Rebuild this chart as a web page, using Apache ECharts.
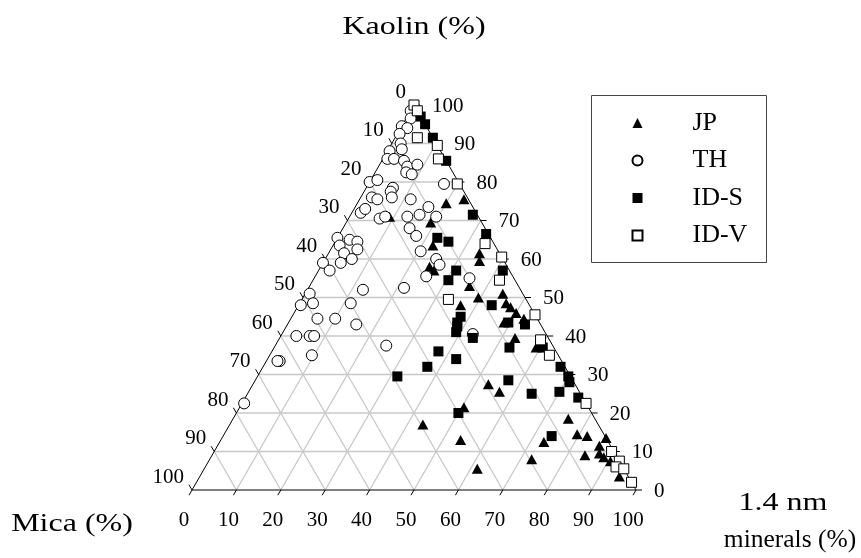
<!DOCTYPE html>
<html>
<head>
<meta charset="utf-8">
<script src="https://cdn.jsdelivr.net/npm/echarts@6.0.0/dist/echarts.min.js"></script>
<style>
html, body { margin: 0; padding: 0; background: #fff; }
#chart { width: 861px; height: 558px; }
</style>
</head>
<body>
<div id="chart"></div>
<script>
// tick labels on the three sides
const ticks = [0, 10, 20, 30, 40, 50, 60, 70, 80, 90, 100];
const gridLevels = [10, 20, 30, 40, 50, 60, 70, 80, 90];

// each point: [Kaolin %, 1.4 nm minerals %]  (Mica = the rest)
const jp = [
    [74.5, 20], [75.5, 23.5], [71, 9], [69.5, 19], [63.5, 22.5], [61.5, 34], [59.5, 35],
    [58, 24.5], [57, 26], [53, 36], [50, 39.5], [48, 36.5], [51, 44.5], [48.5, 46.5],
    [47.5, 48], [46, 50], [44.5, 52.5], [43.5, 48.5], [39.5, 53], [37, 59], [27.5, 53],
    [25.5, 56.5], [21.5, 50.5], [17, 43.5], [13, 54], [5.5, 61.5], [8, 72.5], [12.5, 73],
    [18.5, 75.5], [14.5, 79.5], [14, 82], [9, 84], [13.5, 86.5], [11.5, 86], [9.5, 87],
    [8.5, 88.5], [7.5, 90.5], [3.5, 94.5]
];
const th = [
    [98.5, 0], [96.5, 1], [94.5, 0], [94, 1.5], [92.5, 0.5], [90, 2], [88.5, 3], [88, 0.5],
    [86, 1], [86, 2.5], [85.5, 5], [84, 6.5], [84.5, 8.5], [82.5, 7], [82, 8.5], [80, 0],
    [80.5, 1.5], [79.5, 17], [78.5, 6], [77.5, 6], [76, 2.5], [75.5, 4], [76, 7], [75.5, 11.5],
    [72, 2], [73, 2.5], [70.5, 7], [71, 8], [71, 13], [71.5, 15.5], [73.5, 16.5], [71, 19.5],
    [68, 15], [66, 17.5], [62, 20.5], [65.5, 0], [63.5, 1.5], [65, 3], [64.5, 5], [62.5, 6],
    [61.5, 3.5], [60, 6], [59, 0], [59, 4], [57, 2.5], [55.5, 25], [60, 25], [58.5, 26.5],
    [55, 35], [52, 12.5], [52.5, 21.5], [51, 1], [48, 0.5], [48.5, 3], [48.5, 11.5],
    [44.5, 6], [44.5, 10], [43, 15.5], [40, 3.5], [40, 6.5], [40, 7.5], [37.5, 25],
    [35, 9.5], [40.5, 43], [33.5, 3], [33.5, 2.5], [22.5, 0.5]
];
const idS = [
    [97, 3], [95, 5], [91.5, 8.5], [85.5, 14.5], [71.5, 27.5], [65.5, 22.5], [64.5, 25.5],
    [66.5, 33], [57, 41.5], [57, 31], [54.5, 30.5], [48, 43.5], [43.5, 49.5], [43, 53.5],
    [45, 38], [43.5, 38], [42.5, 38.5], [41, 39], [39.5, 43.5], [36, 37.5], [34, 42.5],
    [37, 53], [37, 60.5], [32, 37], [29.5, 31.5], [28.5, 57], [25, 64], [25.5, 70],
    [32, 67], [29.5, 70], [28, 71], [24, 75], [20, 50], [14, 74]
];
const idV = [
    [100, 0], [98.5, 1.5], [91.5, 5], [89.5, 10.5], [86, 12.5], [79.5, 20], [64, 34],
    [60.5, 39.5], [54.5, 42], [49.5, 33], [45.5, 54.5], [39, 59], [35, 63], [22.5, 77.5],
    [10, 89.5], [7.5, 92.5], [6, 92.5], [5.5, 94.5], [2, 98]
];

const FONT = "Liberation Serif";
const H = Math.sqrt(3) / 2;

// ternary -> plane (x along the base, y up)
function tern(p) {
    return [p[1] + p[0] / 2, p[0] * H];
}

// grid lines, one family per component
const gridSegs = [];
gridLevels.forEach(function (v) {
    gridSegs.push([[v, 0], [v, 100 - v]]);           // kaolin = v
    gridSegs.push([[0, v], [100 - v, v]]);           // 1.4 nm = v
    gridSegs.push([[100 - v, 0], [0, 100 - v]]);     // mica = v
});
const edgeSegs = [
    [[0, 0], [0, 100]],
    [[0, 100], [100, 0]],
    [[100, 0], [0, 0]]
];
function segData(list) {
    return list.map(function (s) { return tern(s[0]).concat(tern(s[1])); });
}

// ticks + labels for the three sides
const tickItems = [];
ticks.forEach(function (v) {
    tickItems.push({ p: [0, v], d: [-3, 5.2], o: [-8, 30], align: "center", text: String(v) });
    tickItems.push({ p: [v, 100 - v], d: [6, 0], o: [18, 1], align: "left", text: String(v) });
    tickItems.push({ p: [100 - v, 0], d: [-3, -5.2], o: [-8, -13], align: "right", text: String(v) });
});

function renderSeg(color, width) {
    return function (params, api) {
        const a = api.coord([api.value(0), api.value(1)]);
        const b = api.coord([api.value(2), api.value(3)]);
        return {
            type: "line",
            shape: { x1: a[0], y1: a[1], x2: b[0], y2: b[1] },
            style: { stroke: color, lineWidth: width }
        };
    };
}

function renderTick(params, api) {
    const t = tickItems[params.dataIndex];
    const c = api.coord([api.value(0), api.value(1)]);
    return {
        type: "group",
        children: [
            {
                type: "line",
                shape: { x1: c[0], y1: c[1], x2: c[0] + t.d[0], y2: c[1] + t.d[1] },
                style: { stroke: "#000", lineWidth: 1 }
            },
            {
                type: "text",
                x: c[0] + t.o[0],
                y: c[1] + t.o[1],
                style: {
                    text: t.text,
                    fontFamily: FONT,
                    fontSize: 21,
                    fill: "#000",
                    align: t.align,
                    verticalAlign: "middle",
                    textAlign: t.align,
                    textVerticalAlign: "middle"
                }
            }
        ]
    };
}

// axis titles (the source text is drawn wide)
function title(text, x, y, sx) {
    return {
        type: "text",
        x: x,
        y: y,
        scaleX: sx,
        style: { text: text, x: 0, y: 0, font: "25px " + FONT, fill: "#000", textAlign: "center", textVerticalAlign: "middle" }
    };
}

const chart = echarts.init(document.getElementById("chart"));
chart.setOption({
    animation: false,
    backgroundColor: "#fff",
    grid: { left: 192, right: 225, top: 105, bottom: 68 },
    xAxis: { type: "value", min: 0, max: 100, show: false },
    yAxis: { type: "value", min: 0, max: 100 * H, show: false },
    legend: {
        data: ["JP", "TH", "ID-S", "ID-V"],
        orient: "vertical",
        left: 631.5,
        top: 110,
        padding: 0,
        itemGap: 11.5,
        itemWidth: 10,
        itemHeight: 10,
        selectedMode: false,
        textStyle: {
            fontFamily: FONT,
            fontSize: 26,
            lineHeight: 26,
            color: "#000",
            padding: [0, 0, 0, 45]
        }
    },
    graphic: [
        {
            type: "rect",
            shape: { x: 591.5, y: 95.5, width: 175, height: 167 },
            style: { fill: "none", stroke: "#444", lineWidth: 1 }
        },
        title("Kaolin (%)", 414, 27, 1.28),
        title("Mica (%)", 72, 524, 1.28),
        title("1.4 nm", 783, 503, 1.28),
        title("minerals (%)", 790, 540, 1.02)
    ],
    series: [
        {
            type: "custom",
            silent: true,
            clip: false,
            renderItem: renderSeg("#c8c8c8", 1.3),
            encode: { x: [0, 2], y: [1, 3] },
            data: segData(gridSegs)
        },
        {
            type: "custom",
            silent: true,
            clip: false,
            renderItem: renderSeg("#000", 1),
            encode: { x: [0, 2], y: [1, 3] },
            data: segData(edgeSegs)
        },
        {
            type: "custom",
            silent: true,
            clip: false,
            renderItem: renderTick,
            data: tickItems.map(function (t) { return tern(t.p); })
        },
        {
            name: "JP",
            type: "scatter",
            symbol: "triangle",
            symbolSize: [11, 10],
            itemStyle: { color: "#000", opacity: 1 },
            data: jp.map(tern)
        },
        {
            name: "TH",
            type: "scatter",
            symbol: "circle",
            symbolSize: 11,
            itemStyle: { color: "#fff", borderColor: "#000", borderWidth: 1, opacity: 1 },
            data: th.map(tern)
        },
        {
            name: "ID-S",
            type: "scatter",
            symbol: "rect",
            symbolSize: 10,
            itemStyle: { color: "#000", opacity: 1 },
            data: idS.map(tern)
        },
        {
            name: "ID-V",
            type: "scatter",
            symbol: "rect",
            symbolSize: 10,
            itemStyle: { color: "#fff", borderColor: "#000", borderWidth: 1, opacity: 1 },
            data: idV.map(tern)
        }
    ]
});
</script>
</body>
</html>
